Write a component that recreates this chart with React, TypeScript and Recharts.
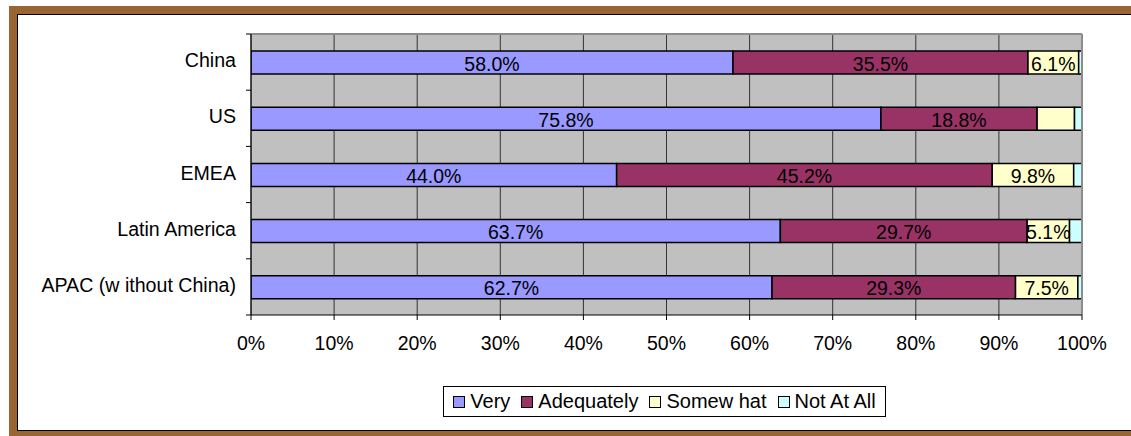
import React from 'react';
import { BarChart, Bar, XAxis, YAxis, CartesianGrid, LabelList, ReferenceLine } from 'recharts';

const categories = ['China', 'US', 'EMEA', 'Latin America', 'APAC (w ithout China)'];
const very = [58.0, 75.8, 44.0, 63.7, 62.7];
const adequately = [35.5, 18.8, 45.2, 29.7, 29.3];
const somewhat = [6.1, 4.5, 9.8, 5.1, 7.5];
const notAtAll = [0.4, 0.9, 1.0, 1.5, 0.6];
const xTicks = [0, 10, 20, 30, 40, 50, 60, 70, 80, 90, 100];

const seriesKeys = ['very', 'adequately', 'somewhat', 'notAtAll'];
const seriesNames = ['Very', 'Adequately', 'Somew hat', 'Not At All'];
const seriesColors = ['#9999FF', '#993366', '#FFFFCC', '#CCFFFF'];

const data = categories.map((name, i) => ({
  name,
  very: very[i],
  adequately: adequately[i],
  somewhat: somewhat[i],
  notAtAll: notAtAll[i],
}));

const FONT = "Arial, 'Liberation Sans', sans-serif";
const W = 1131;
const H = 436;
const M = { top: 34, right: 49, left: 0, bottom: 81 };
const X_AXIS_H = 40;
const PLOT_H = H - M.top - M.bottom - X_AXIS_H;
const BAND = PLOT_H / categories.length;

const YTick = (props: any) => {
  const { x, y, payload, index } = props;
  const ax = x + 15;
  return (
    <g>
      <text x={x} y={y - 2} textAnchor="end" dominantBaseline="central" fontSize={19.6} fontFamily={FONT} fill="#000">
        {payload.value}
      </text>
      <line x1={ax - 5} x2={ax} y1={y - BAND / 2} y2={y - BAND / 2} stroke="#000" strokeWidth={1} />
      {index === categories.length - 1 && (
        <line x1={ax - 5} x2={ax} y1={y + BAND / 2} y2={y + BAND / 2} stroke="#000" strokeWidth={1} />
      )}
    </g>
  );
};

const renderLabel = (props: any) => {
  const { x, y, width, height, value } = props;
  if (value < 5) return null;
  return (
    <text
      x={x + width / 2}
      y={y + height / 2 + 1}
      textAnchor="middle"
      dominantBaseline="central"
      fontSize={19.5}
      fontFamily={FONT}
      fill="#000"
    >
      {value.toFixed(1) + '%'}
    </text>
  );
};

export default function App() {
  return (
    <div style={{ position: 'absolute', left: 0, top: 0, width: W, height: H, background: '#fff', overflow: 'hidden' }}>
      <div
        style={{
          position: 'absolute',
          left: 9,
          top: 6,
          width: W - 9,
          height: H - 6,
          boxSizing: 'border-box',
          borderLeft: '8px solid #996633',
          borderTop: '8px solid #996633',
          borderBottom: '5px solid #996633',
        }}
      >
        <div
          style={{
            width: '100%',
            height: '100%',
            boxSizing: 'border-box',
            borderLeft: '1px solid #000',
            borderTop: '1px solid #000',
            borderBottom: '1px solid #000',
            background: '#fff',
          }}
        />
      </div>
      <div style={{ position: 'absolute', left: 0, top: 0 }}>
        <BarChart width={W} height={H} data={data} layout="vertical" margin={M} barSize={23}>
          <CartesianGrid horizontal={false} vertical={true} fill="#C0C0C0" stroke="#333333" strokeWidth={1} />
          <CartesianGrid horizontal={true} vertical={false} horizontalPoints={[M.top]} stroke="#8C8C8C" strokeWidth={2} />
          <XAxis
            type="number"
            domain={[0, 100]}
            ticks={xTicks}
            allowDataOverflow
            height={X_AXIS_H}
            tickFormatter={(v: number) => v + '%'}
            tick={{ fontSize: 19.5, fontFamily: FONT, fill: '#000' }}
            tickSize={5}
            tickMargin={16}
            axisLine={{ stroke: '#000' }}
            tickLine={{ stroke: '#000' }}
          />
          <YAxis
            type="category"
            dataKey="name"
            width={251}
            tickSize={0}
            tickMargin={15}
            tickLine={false}
            axisLine={{ stroke: '#000' }}
            tick={<YTick />}
            interval={0}
          />
          {seriesKeys.map((k, i) => (
            <Bar
              key={k}
              dataKey={k}
              name={seriesNames[i]}
              stackId="a"
              fill={seriesColors[i]}
              stroke="#000"
              strokeWidth={1.5}
              isAnimationActive={false}
            >
              {i < 3 && <LabelList dataKey={k} content={renderLabel} />}
            </Bar>
          ))}
          <ReferenceLine x={100} stroke="#8C8C8C" strokeWidth={2} />
        </BarChart>
      </div>
      <div
        style={{
          position: 'absolute',
          left: 443,
          top: 386,
          width: 443,
          height: 31,
          boxSizing: 'border-box',
          border: '1px solid #000',
          background: '#fff',
          display: 'flex',
          alignItems: 'center',
          justifyContent: 'center',
          fontFamily: FONT,
          fontSize: 20,
          color: '#000',
          gap: 11,
        }}
      >
        {seriesNames.map((n, i) => (
          <div key={n} style={{ display: 'flex', alignItems: 'center', gap: 5 }}>
            <span
              style={{
                display: 'inline-block',
                width: 10,
                height: 10,
                background: seriesColors[i],
                border: '1px solid #000',
              }}
            />
            <span>{n}</span>
          </div>
        ))}
      </div>
    </div>
  );
}
